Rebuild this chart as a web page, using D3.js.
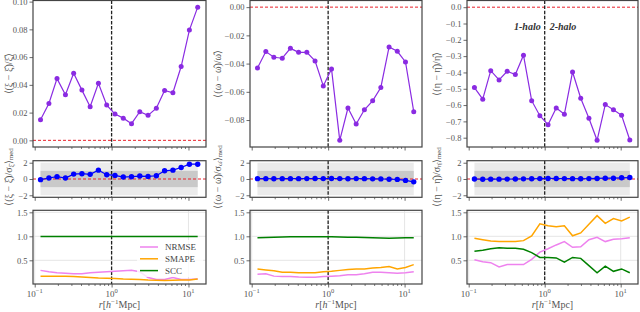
<!DOCTYPE html>
<html>
<head>
<meta charset="utf-8">
<script src="https://cdn.jsdelivr.net/npm/d3@7"></script>
<style>
  body { margin: 0; background: #fff; }
  svg { display: block; }
  text { font-family: "Liberation Serif", serif; fill: #555; }
</style>
</head>
<body>
<svg width="640" height="312"></svg>
<script>
// separation bins, h^-1 Mpc
var r = [0.119, 0.153, 0.195, 0.251, 0.321, 0.411, 0.526, 0.674, 0.864, 1.107,
         1.419, 1.816, 2.327, 2.98, 3.82, 4.89, 6.27, 8.03, 10.28, 13.18];

// mean relative difference
var xiRel = [0.0148, 0.0266, 0.0445, 0.0328, 0.0484, 0.0362, 0.0242, 0.0412, 0.0254, 0.0189,
             0.0160, 0.0120, 0.0206, 0.0180, 0.0232, 0.0359, 0.0343, 0.0532, 0.0795, 0.0960];
var omegaRel = [-0.0431, -0.0315, -0.0355, -0.0362, -0.0292, -0.0320, -0.0320, -0.0381, -0.0558, -0.0438,
                -0.0944, -0.0715, -0.0828, -0.0727, -0.0664, -0.0569, -0.0282, -0.0313, -0.0388, -0.0741];
var etaRel = [-0.493, -0.564, -0.389, -0.446, -0.393, -0.413, -0.294, -0.573, -0.665, -0.720,
              -0.618, -0.656, -0.397, -0.558, -0.681, -0.816, -0.597, -0.628, -0.663, -0.814];

// median difference in units of sigma
var xiSig = [-0.08, 0.12, 0.28, 0.12, 0.60, 0.65, 0.57, 1.09, 0.53, 0.44,
             0.24, 0.28, 0.36, 0.32, 0.40, 1.01, 1.09, 1.41, 1.82, 1.82];
var omegaSig = [0.04, 0.04, 0.03, 0.04, 0.04, 0.04, 0.05, 0.06, 0.05, 0.06,
                0.05, 0.03, 0.05, 0.04, 0.02, 0.01, -0.03, -0.05, -0.17, -0.35];
var etaSig = [0.00, -0.03, -0.02, -0.02, -0.01, 0.00, 0.02, 0.03, 0.05, 0.07,
              0.06, 0.05, 0.04, 0.03, 0.05, 0.07, 0.10, 0.10, 0.15, 0.18];

// metrics
var nrmseXi = [0.29, 0.26, 0.24, 0.23, 0.22, 0.22, 0.24, 0.25, 0.26, 0.27,
               0.28, 0.29, 0.26, 0.14, 0.10, 0.10, 0.14, 0.10, 0.10, 0.11];
var smapeXi = [0.165, 0.165, 0.165, 0.165, 0.16, 0.15, 0.14, 0.13, 0.125, 0.12,
               0.11, 0.105, 0.10, 0.09, 0.085, 0.08, 0.085, 0.09, 0.09, 0.11];
var sccXi = [0.995, 0.996, 0.997, 0.997, 0.998, 0.998, 0.998, 0.998, 0.998, 0.998,
             0.998, 0.998, 0.998, 0.998, 0.997, 0.997, 0.997, 0.996, 0.996, 0.995];

var nrmseOmega = [0.21, 0.22, 0.17, 0.16, 0.16, 0.15, 0.145, 0.145, 0.16, 0.17,
                  0.18, 0.20, 0.20, 0.22, 0.25, 0.25, 0.24, 0.23, 0.24, 0.26];
var smapeOmega = [0.32, 0.30, 0.28, 0.25, 0.25, 0.24, 0.24, 0.24, 0.26, 0.27,
                  0.29, 0.31, 0.32, 0.32, 0.34, 0.35, 0.37, 0.32, 0.35, 0.41];
var sccOmega = [0.97, 0.975, 0.98, 0.985, 0.99, 0.99, 0.99, 0.99, 0.99, 0.99,
                0.985, 0.98, 0.98, 0.975, 0.97, 0.965, 0.96, 0.965, 0.97, 0.97];

var nrmseEta = [0.51, 0.47, 0.45, 0.36, 0.41, 0.41, 0.41, 0.52, 0.67, 0.74,
                0.82, 0.89, 0.77, 0.78, 0.93, 0.98, 0.89, 0.94, 0.95, 0.97];
var smapeEta = [0.96, 0.93, 0.90, 0.89, 0.89, 0.89, 0.91, 1.01, 1.26, 1.22,
                1.20, 1.22, 1.01, 1.07, 1.25, 1.43, 1.27, 1.37, 1.32, 1.40];
var sccEta = [0.69, 0.71, 0.74, 0.76, 0.75, 0.75, 0.73, 0.66, 0.56, 0.56,
              0.55, 0.46, 0.56, 0.54, 0.39, 0.24, 0.38, 0.27, 0.32, 0.24];

var metricNames = ["NRMSE", "SMAPE", "SCC"];
var metricColors = ["violet", "orange", "green"];

// tick labels
var xMajor = [0.1, 1, 10];
var xMajorExp = ["\u22121", "0", "1"];
var xiTicks = [0, 0.02, 0.04, 0.06, 0.08, 0.10];
var omegaTicks = [0, -0.02, -0.04, -0.06, -0.08];
var etaTicks = [0, -0.1, -0.2, -0.3, -0.4, -0.5, -0.6, -0.7, -0.8];
var sigTicks = [-2, 0, 2];
var metricTicks = [0.5, 1.0, 1.5];

var svg = d3.select("svg");

var rows = { top: [0.5, 147], mid: [160.7, 197.3], bot: [210.3, 284] };
var xDom = [0.095, 16.9];

var minorTicks = [];
[-2, -1, 0, 1].forEach(function(n) {
    for (var k = 2; k <= 9; k++) {
        var v = k * Math.pow(10, n);
        if (v > xDom[0] && v < xDom[1]) minorTicks.push(v);
    }
});

var cols = [
    { x0: 33, x1: 206, sym: "\u03be", rel: xiRel, relDom: [-0.0048, 0.1008], relTicks: xiTicks, relFmt: ".2f",
      sig: xiSig, metrics: [nrmseXi, smapeXi, sccXi], labX: 8, legend: true },
    { x0: 250, x1: 422, sym: "\u03c9", rel: omegaRel, relDom: [-0.0991, 0.0047], relTicks: omegaTicks, relFmt: ".2f",
      sig: omegaSig, metrics: [nrmseOmega, smapeOmega, sccOmega], labX: 217 },
    { x0: 467, x1: 638, sym: "\u03b7", rel: etaRel, relDom: [-0.857, 0.041], relTicks: etaTicks, relFmt: ".1f",
      sig: etaSig, metrics: [nrmseEta, smapeEta, sccEta], labX: 436, halo: true }
];

function axes(c, row, x, y, yTicks, yFmt, xLabels) {
    var gx = svg.append("g")
        .attr("transform", "translate(0," + row[1] + ")")
        .call(d3.axisBottom(x).tickValues(minorTicks).tickSize(2).tickFormat(""));
    gx.select(".domain").remove();
    gx.attr("color", "#444").selectAll("line").attr("stroke-width", 0.7);

    var gX = svg.append("g")
        .attr("transform", "translate(0," + row[1] + ")")
        .call(d3.axisBottom(x).tickValues(xMajor).tickSize(3.5).tickFormat(""));
    gX.select(".domain").remove();
    gX.attr("color", "#444").selectAll("line").attr("stroke-width", 0.8);

    if (xLabels) {
        xMajor.forEach(function(v, i) {
            var t = svg.append("text")
                .attr("x", x(v)).attr("y", row[1] + 13)
                .attr("text-anchor", "middle")
                .attr("font-size", 9);
            t.append("tspan").text("10");
            t.append("tspan").attr("dy", -4).attr("font-size", 6.5).text(xMajorExp[i]);
        });
    }

    var gy = svg.append("g")
        .attr("transform", "translate(" + c.x0 + ",0)")
        .call(d3.axisLeft(y).tickValues(yTicks).tickSize(3.5).tickPadding(2).tickFormat(d3.format(yFmt)));
    gy.select(".domain").remove();
    gy.attr("color", "#444")
      .attr("font-family", "Liberation Serif")
      .attr("font-size", 8.5);
    gy.selectAll("line").attr("stroke-width", 0.8);
    gy.selectAll("text").style("fill", "#555");
}

function frame(c, row) {
    svg.append("rect")
        .attr("x", c.x0).attr("y", row[0])
        .attr("width", c.x1 - c.x0).attr("height", row[1] - row[0])
        .attr("fill", "none").attr("stroke", "#444").attr("stroke-width", 1.2);
}

function vline(x, row) {
    svg.append("line")
        .attr("x1", x(1)).attr("x2", x(1))
        .attr("y1", row[0]).attr("y2", row[1])
        .attr("stroke", "#222").attr("stroke-width", 1.3)
        .attr("stroke-dasharray", "3.5,1.6");
}

function hline(c, y, v) {
    svg.append("line")
        .attr("x1", c.x0).attr("x2", c.x1)
        .attr("y1", y(v)).attr("y2", y(v))
        .attr("stroke", "#e8202a").attr("stroke-width", 1)
        .attr("stroke-dasharray", "3,2");
}

cols.forEach(function(c) {
    var x = d3.scaleLog().domain(xDom).range([c.x0, c.x1]);
    var hat = c.sym + "\u0302";

    // ---- top: relative difference
    var row = rows.top;
    var y = d3.scaleLinear().domain(c.relDom).range([row[1], row[0]]);
    hline(c, y, 0);
    vline(x, row);
    var line = d3.line().x(function(d, i) { return x(r[i]); }).y(function(d) { return y(d); });
    svg.append("path").datum(c.rel)
       .attr("d", line).attr("fill", "none")
       .attr("stroke", "#8a2be2").attr("stroke-width", 1.2);
    svg.selectAll(null).data(c.rel).enter().append("circle")
       .attr("cx", function(d, i) { return x(r[i]); })
       .attr("cy", function(d) { return y(d); })
       .attr("r", 2.5).attr("fill", "#8a2be2");
    axes(c, row, x, y, c.relTicks, c.relFmt, false);
    frame(c, row);
    svg.append("text")
       .attr("transform", "translate(" + c.labX + "," + (row[0] + row[1]) / 2 + ") rotate(-90)")
       .attr("text-anchor", "middle").attr("dominant-baseline", "central")
       .attr("font-size", 10)
       .text("\u27e8(" + c.sym + " \u2212 " + hat + ")/" + hat + "\u27e9");

    if (c.halo) {
        svg.append("text").attr("x", x(1) - 4).attr("y", 30)
           .attr("text-anchor", "end").attr("font-size", 10)
           .attr("font-style", "italic").attr("font-weight", "bold")
           .style("fill", "#333").text("1-halo");
        svg.append("text").attr("x", x(1) + 5).attr("y", 30)
           .attr("text-anchor", "start").attr("font-size", 10)
           .attr("font-style", "italic").attr("font-weight", "bold")
           .style("fill", "#333").text("2-halo");
    }

    // ---- middle: difference over sigma
    row = rows.mid;
    y = d3.scaleLinear().domain([-2.25, 2.25]).range([row[1], row[0]]);
    svg.append("rect")
       .attr("x", x(r[0])).attr("width", x(r[r.length - 1]) - x(r[0]))
       .attr("y", y(2)).attr("height", y(-2) - y(2))
       .attr("fill", "#ebebeb");
    svg.append("rect")
       .attr("x", x(r[0])).attr("width", x(r[r.length - 1]) - x(r[0]))
       .attr("y", y(1)).attr("height", y(-1) - y(1))
       .attr("fill", "#c9c9c9");
    hline(c, y, 0);
    vline(x, row);
    line = d3.line().x(function(d, i) { return x(r[i]); }).y(function(d) { return y(d); });
    svg.append("path").datum(c.sig)
       .attr("d", line).attr("fill", "none")
       .attr("stroke", "blue").attr("stroke-width", 1.2);
    svg.selectAll(null).data(c.sig).enter().append("circle")
       .attr("cx", function(d, i) { return x(r[i]); })
       .attr("cy", function(d) { return y(d); })
       .attr("r", 2.7).attr("fill", "blue");
    axes(c, row, x, y, sigTicks, "d", false);
    frame(c, row);
    var lab = svg.append("text")
       .attr("transform", "translate(" + c.labX + "," + ((row[0] + row[1]) / 2 - 2) + ") rotate(-90)")
       .attr("text-anchor", "middle").attr("dominant-baseline", "central")
       .attr("font-size", 10);
    lab.append("tspan").text("\u27e8(" + c.sym + " \u2212 " + hat + ")/\u03c3");
    lab.append("tspan").attr("dy", 2.5).attr("font-size", 7).text(hat);
    lab.append("tspan").attr("dy", -2.5).text("\u27e9");
    lab.append("tspan").attr("dy", 2.5).attr("font-size", 7).text("med");

    // ---- bottom: metrics
    row = rows.bot;
    y = d3.scaleLinear().domain([0.006, 1.542]).range([row[1], row[0]]);
    xMajor.forEach(function(v) {
        svg.append("line").attr("x1", x(v)).attr("x2", x(v))
           .attr("y1", row[0]).attr("y2", row[1])
           .attr("stroke", "#e2e2e2").attr("stroke-width", 0.9);
    });
    metricTicks.forEach(function(v) {
        svg.append("line").attr("x1", c.x0).attr("x2", c.x1)
           .attr("y1", y(v)).attr("y2", y(v))
           .attr("stroke", "#e2e2e2").attr("stroke-width", 0.9);
    });
    vline(x, row);
    line = d3.line()
        .x(function(d, i) { return x(r[i]); }).y(function(d) { return y(d); });
    c.metrics.forEach(function(m, k) {
        svg.append("path").datum(m)
           .attr("d", line).attr("fill", "none")
           .attr("stroke", metricColors[k]).attr("stroke-width", 1.5);
    });
    axes(c, row, x, y, metricTicks, ".1f", true);

    if (c.legend) {
        svg.append("rect").attr("x", c.x1 - 69).attr("y", 240)
           .attr("width", 66).attr("height", 37)
           .attr("fill", "#fff").attr("fill-opacity", 0.8);
        metricNames.forEach(function(name, k) {
            var ly = 247 + k * 11.8;
            svg.append("line").attr("x1", c.x1 - 66).attr("x2", c.x1 - 48)
               .attr("y1", ly).attr("y2", ly)
               .attr("stroke", metricColors[k]).attr("stroke-width", 1.5);
            svg.append("text").attr("x", c.x1 - 41).attr("y", ly + 3)
               .attr("font-size", 9).style("fill", "#444").text(name);
        });
    }
    frame(c, row);

    var xl = svg.append("text")
       .attr("x", (c.x0 + c.x1) / 2).attr("y", 308)
       .attr("text-anchor", "middle").attr("font-size", 10);
    xl.append("tspan").attr("font-style", "italic").text("r");
    xl.append("tspan").text("[");
    xl.append("tspan").attr("font-style", "italic").text("h");
    xl.append("tspan").attr("dy", -4).attr("font-size", 7).text("\u22121");
    xl.append("tspan").attr("dy", 4).text("Mpc]");
});
</script>
</body>
</html>
